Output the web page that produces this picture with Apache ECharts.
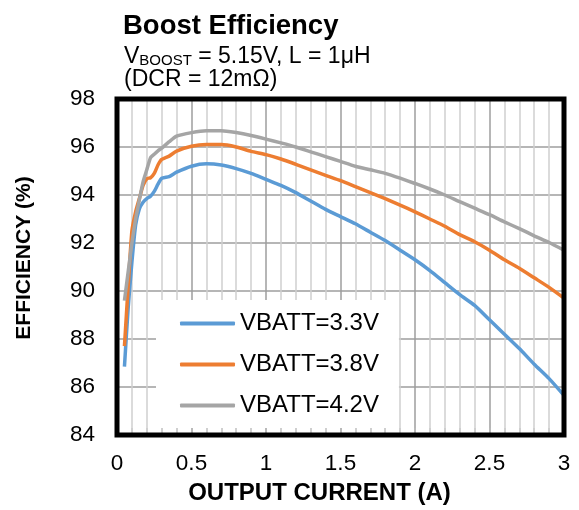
<!DOCTYPE html>
<html>
<head>
<meta charset="utf-8">
<script src="https://cdn.jsdelivr.net/npm/echarts@6/dist/echarts.min.js"></script>
<style>
  html, body { margin: 0; padding: 0; background: #fff; }
  #chart { width: 579px; height: 510px; }
</style>
</head>
<body>
<div id="chart"></div>
<script>
// output current (A)
const currents = [0.05, 0.075, 0.1, 0.125, 0.15, 0.175, 0.2, 0.225, 0.25, 0.275, 0.3, 0.35, 0.4,
  0.5, 0.6, 0.7, 0.8, 0.9, 1.0, 1.1, 1.2, 1.3, 1.4, 1.5, 1.6, 1.7, 1.8, 1.9, 2.0,
  2.1, 2.2, 2.3, 2.4, 2.5, 2.6, 2.7, 2.8, 2.9, 3.0]

// efficiency (%) per battery voltage
const eff33 = [86.85, 89.3, 91.2, 92.75, 93.42, 93.7, 93.85, 93.95, 94.15, 94.45, 94.7, 94.77, 94.95,
  95.2, 95.3, 95.25, 95.1, 94.9, 94.65, 94.4, 94.1, 93.75, 93.4, 93.1, 92.8, 92.45, 92.1, 91.7, 91.3,
  90.85, 90.35, 89.85, 89.4, 88.8, 88.2, 87.6, 86.95, 86.35, 85.65]
const eff38 = [87.7, 90.2, 92.5, 93.3, 93.85, 94.4, 94.68, 94.72, 94.9, 95.25, 95.48, 95.62, 95.83,
  96.03, 96.1, 96.1, 96.0, 95.82, 95.68, 95.5, 95.28, 95.05, 94.82, 94.6, 94.35, 94.1, 93.85, 93.58, 93.3,
  93.0, 92.7, 92.35, 92.05, 91.7, 91.3, 90.95, 90.55, 90.15, 89.7]
const eff42 = [89.6, 90.8, 92.0, 93.0, 93.8, 94.55, 95.05, 95.55, 95.7, 95.84, 95.95, 96.22, 96.45,
  96.6, 96.68, 96.68, 96.6, 96.48, 96.33, 96.17, 96.0, 95.8, 95.6, 95.4, 95.2, 95.05, 94.9, 94.7, 94.48,
  94.25, 94.0, 93.72, 93.45, 93.18, 92.88, 92.6, 92.3, 92.02, 91.7]

const seriesNames = ['VBATT=3.3V', 'VBATT=3.8V', 'VBATT=4.2V']
const seriesColors = ['#5B9BD5', '#ED7D31', '#A5A5A5']
const seriesValues = [eff33, eff38, eff42]

const font = 'Liberation Sans, Arial, sans-serif'

const chart = echarts.init(document.getElementById('chart'))

chart.setOption({
  animation: false,
  textStyle: { fontFamily: font },
  title: [
    {
      text: 'Boost Efficiency',
      left: 123,
      top: 12,
      padding: 0,
      textStyle: { fontFamily: font, fontSize: 27.5, fontWeight: 'bold', color: '#000' }
    },
    {
      text: '{v|V}{sub|BOOST}{v| = 5.15V, L = 1μH}\n{v|(DCR = 12mΩ)}',
      left: 124,
      top: 45,
      padding: 0,
      textStyle: {
        fontFamily: font,
        fontWeight: 'normal',
        color: '#000',
        rich: {
          v: { fontSize: 23, lineHeight: 23, fontWeight: 'normal', color: '#000', fontFamily: font },
          sub: { fontSize: 15, lineHeight: 14, fontWeight: 'normal', verticalAlign: 'bottom', color: '#000', fontFamily: font }
        }
      }
    }
  ],
  legend: {
    orient: 'vertical',
    left: 156,
    top: 300,
    padding: [10, 20, 9, 24],
    backgroundColor: '#fff',
    icon: 'roundRect',
    itemWidth: 55,
    itemHeight: 4,
    itemGap: 14,
    textStyle: { fontFamily: font, fontSize: 24, lineHeight: 27, color: '#000' },
    data: seriesNames
  },
  grid: {
    left: 117,
    right: 15,
    top: 99,
    bottom: 75,
    show: true,
    z: 10,
    backgroundColor: 'transparent',
    borderColor: '#000',
    borderWidth: 5
  },
  xAxis: {
    type: 'value',
    min: 0,
    max: 3,
    interval: 0.5,
    name: 'OUTPUT CURRENT (A)',
    nameLocation: 'middle',
    nameGap: 46,
    nameTextStyle: { fontFamily: font, fontSize: 24, fontWeight: 'bold', color: '#000', padding: [0, 42, 0, 0] },
    axisLine: { show: false },
    axisTick: { show: true, inside: true, length: 7, lineStyle: { color: '#bbb', width: 1.5 } },
    minorTick: { show: true, splitNumber: 5, length: 7, lineStyle: { color: '#ccc', width: 1.5 } },
    axisLabel: { fontFamily: font, fontSize: 22.5, color: '#000', margin: 17 },
    splitLine: { show: true, showMinLine: false, showMaxLine: false, lineStyle: { color: '#9e9e9e', width: 1.5 } },
    minorSplitLine: { show: true, lineStyle: { color: '#d0d0d0', width: 1.5 } }
  },
  yAxis: {
    type: 'value',
    min: 84,
    max: 98,
    interval: 2,
    name: 'EFFICIENCY (%)',
    nameLocation: 'middle',
    nameGap: 82,
    nameTextStyle: { fontFamily: font, fontSize: 21, fontWeight: 'bold', color: '#000', padding: [0, 0, 0, 18] },
    axisLine: { show: false },
    axisTick: { show: false },
    axisLabel: { fontFamily: font, fontSize: 22.5, color: '#000', margin: 22 },
    splitLine: { show: true, showMinLine: false, showMaxLine: false, lineStyle: { color: '#9e9e9e', width: 1.5 } }
  },
  series: seriesNames.map((name, i) => ({
    name: name,
    type: 'line',
    symbol: 'none',
    smooth: 0.2,
    color: seriesColors[i],
    lineStyle: { width: 3.5, color: seriesColors[i] },
    data: currents.map((c, k) => [c, seriesValues[i][k]])
  }))
})
</script>
</body>
</html>
